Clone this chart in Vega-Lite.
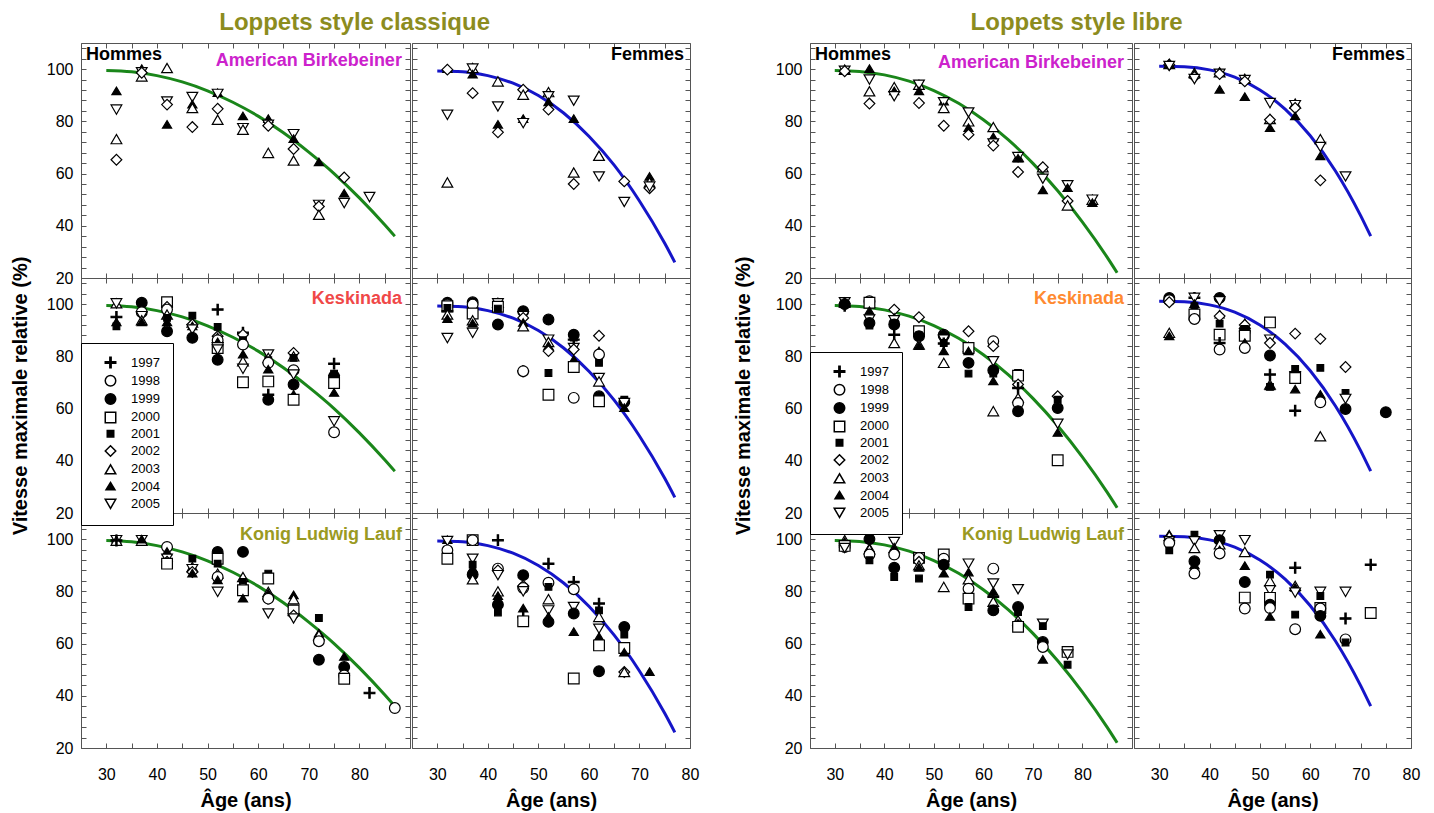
{
"$schema":"https://vega.github.io/schema/vega-lite/v6.json",
"background":"white",
"padding":{"left":9,"top":11,"right":5,"bottom":5},
"config":{"font":"Liberation Sans","view":{"stroke":"#555","strokeWidth":1},
 "axis":{"grid":false,"domain":false,"tickColor":"#555","tickSize":-5,"labelFont":"Liberation Sans","labelFontSize":16,"labelColor":"#000","labelPadding":13,"titleFont":"Liberation Sans","titleFontSize":20,"titleFontWeight":"bold","titleColor":"#000"},
 "legend":{"padding":13,"symbolOffset":10,"labelOffset":14,"labelFontSize":13,"labelFont":"Liberation Sans","labelColor":"#000","rowPadding":1.3,"symbolSize":110,"strokeColor":"#000","fillColor":"#fff","zindex":1},
 "title":{"font":"Liberation Sans","fontSize":24,"fontWeight":"bold","color":"#8c8c1e","anchor":"middle","frame":"bounds","offset":7}},
"datasets":{
"cCH":[{"a":30,"v":99.5},{"a":35,"v":99.0},{"a":40,"v":97.5},{"a":45,"v":95.1},{"a":50,"v":91.7},{"a":55,"v":87.3},{"a":60,"v":82},{"a":65,"v":75.6},{"a":70,"v":68.2},{"a":75,"v":60},{"a":80,"v":50.7},{"a":85,"v":40.4},{"a":87,"v":36}],
"cCF":[{"a":30,"v":99.3},{"a":35,"v":99.0},{"a":40,"v":97.5},{"a":45,"v":94.6},{"a":50,"v":89.9},{"a":55,"v":83.2},{"a":60,"v":74.3},{"a":65,"v":63.2},{"a":70,"v":49.5},{"a":75,"v":33.3},{"a":77,"v":26}],
"cLH":[{"a":30,"v":99.5},{"a":35,"v":99.1},{"a":40,"v":97.8},{"a":45,"v":95.4},{"a":50,"v":91.8},{"a":55,"v":86.9},{"a":60,"v":80.6},{"a":65,"v":73},{"a":70,"v":63.9},{"a":75,"v":53.4},{"a":80,"v":41.4},{"a":85,"v":27.9},{"a":87,"v":22}],
"cLF":[{"a":30,"v":101.1},{"a":35,"v":100.9},{"a":40,"v":99.7},{"a":45,"v":96.9},{"a":50,"v":92},{"a":55,"v":84.7},{"a":60,"v":74.5},{"a":65,"v":61},{"a":70,"v":43.9},{"a":72,"v":36}],
"CH_AB":[{"y":"2004","a":32,"v":91.5},{"y":"2005","a":32,"v":84.5},{"y":"2003","a":32,"v":73.2},{"y":"2002","a":32,"v":65.3},
{"y":"2004","a":37,"v":100},{"y":"2005","a":37,"v":98.8},{"y":"2003","a":37,"v":97.2},{"y":"2002","a":37,"v":98.6},
{"y":"2003","a":42,"v":100.4},{"y":"2005","a":42,"v":87.6},{"y":"2002","a":42,"v":86.4},{"y":"2004","a":42,"v":78.7},
{"y":"2005","a":47,"v":89.3},{"y":"2004","a":47,"v":86.4},{"y":"2003","a":47,"v":85.1},{"y":"2002","a":47,"v":77.8},
{"y":"2004","a":52,"v":90.8},{"y":"2005","a":52,"v":90.5},{"y":"2002","a":52,"v":84.8},{"y":"2003","a":52,"v":80.6},
{"y":"2004","a":57,"v":81.9},{"y":"2005","a":57,"v":77.4},{"y":"2003","a":57,"v":76.8},
{"y":"2004","a":62,"v":80.9},{"y":"2005","a":62,"v":78.7},{"y":"2002","a":62,"v":78.3},{"y":"2003","a":62,"v":67.9},
{"y":"2005","a":67,"v":75.1},{"y":"2004","a":67,"v":73.2},{"y":"2002","a":67,"v":69.4},{"y":"2003","a":67,"v":65},
{"y":"2004","a":72,"v":64.3},{"y":"2005","a":72,"v":48},{"y":"2002","a":72,"v":47.4},{"y":"2003","a":72,"v":44.2},
{"y":"2002","a":77,"v":58.5},{"y":"2004","a":77,"v":52.3},{"y":"2005","a":77,"v":48.7},
{"y":"2005","a":82,"v":51}],
"CF_AB":[{"y":"2004","a":32,"v":100},{"y":"2002","a":32,"v":99.8},{"y":"2005","a":32,"v":82.5},{"y":"2003","a":32,"v":56.6},
{"y":"2003","a":37,"v":100.4},{"y":"2005","a":37,"v":100.2},{"y":"2004","a":37,"v":97.9},{"y":"2002","a":37,"v":90.8},
{"y":"2003","a":42,"v":95.3},{"y":"2005","a":42,"v":85.7},{"y":"2004","a":42,"v":78.7},{"y":"2002","a":42,"v":75.8},
{"y":"2002","a":47,"v":92.1},{"y":"2003","a":47,"v":90.2},{"y":"2004","a":47,"v":80.9},{"y":"2005","a":47,"v":79.3},
{"y":"2003","a":52,"v":91.2},{"y":"2005","a":52,"v":89.6},{"y":"2004","a":52,"v":87.3},{"y":"2002","a":52,"v":84.5},
{"y":"2005","a":57,"v":87.9},{"y":"2004","a":57,"v":80.9},{"y":"2003","a":57,"v":60.4},{"y":"2002","a":57,"v":56},
{"y":"2004","a":62,"v":66.6},{"y":"2003","a":62,"v":66.8},{"y":"2005","a":62,"v":58.9},
{"y":"2002","a":67,"v":57},{"y":"2005","a":67,"v":49.1},
{"y":"2004","a":72,"v":58.7},{"y":"2003","a":72,"v":56.6},{"y":"2002","a":72,"v":54.4},{"y":"2005","a":72,"v":55}],
"CH_K":[{"y":"2003","a":32,"v":100.3},{"y":"2005","a":32,"v":100.3},{"y":"1997","a":32,"v":95.1},{"y":"2004","a":32,"v":93},{"y":"2001","a":32,"v":91.5},
{"y":"1999","a":37,"v":100.5},{"y":"1998","a":37,"v":96.9},{"y":"2005","a":37,"v":95.4},{"y":"2003","a":37,"v":93.8},{"y":"2004","a":37,"v":93},
{"y":"2000","a":42,"v":100.7},{"y":"2002","a":42,"v":98.9},{"y":"1998","a":42,"v":97.9},{"y":"2003","a":42,"v":96},{"y":"2001","a":42,"v":94.7},{"y":"2004","a":42,"v":93},{"y":"1999","a":42,"v":89.6},
{"y":"2001","a":47,"v":95.6},{"y":"2003","a":47,"v":93},{"y":"2002","a":47,"v":92.2},{"y":"2004","a":47,"v":91.5},{"y":"2005","a":47,"v":90.3},{"y":"1999","a":47,"v":87.1},
{"y":"1997","a":52,"v":97.9},{"y":"2001","a":52,"v":91.3},{"y":"2002","a":52,"v":87.7},{"y":"2003","a":52,"v":87.1},{"y":"1998","a":52,"v":86.2},{"y":"2004","a":52,"v":85.4},{"y":"2000","a":52,"v":83.2},{"y":"2005","a":52,"v":82.6},{"y":"1999","a":52,"v":78.7},
{"y":"1997","a":57,"v":89},{"y":"2002","a":57,"v":88.3},{"y":"2001","a":57,"v":86.2},{"y":"1998","a":57,"v":84.5},{"y":"2004","a":57,"v":80.7},{"y":"2003","a":57,"v":78.1},{"y":"2005","a":57,"v":75.2},{"y":"2000","a":57,"v":70.1},
{"y":"2005","a":62,"v":80.7},{"y":"2003","a":62,"v":79.4},{"y":"2001","a":62,"v":78.5},{"y":"1998","a":62,"v":77.5},{"y":"2004","a":62,"v":74.9},{"y":"2000","a":62,"v":70.4},{"y":"1997","a":62,"v":65.3},{"y":"1999","a":62,"v":63.4},
{"y":"2002","a":67,"v":81.3},{"y":"2003","a":67,"v":80},{"y":"2001","a":67,"v":79.4},{"y":"1998","a":67,"v":74.7},{"y":"2005","a":67,"v":73},{"y":"1999","a":67,"v":69.2},{"y":"2004","a":67,"v":65.3},{"y":"2000","a":67,"v":63.4},
{"y":"1997","a":75,"v":77.2},{"y":"2001","a":75,"v":73.4},{"y":"2002","a":75,"v":72.6},{"y":"1999","a":75,"v":72.4},{"y":"2000","a":75,"v":69.8},{"y":"2004","a":75,"v":66},{"y":"2005","a":75,"v":55.1},{"y":"1998","a":75,"v":50.9}],
"CF_K":[{"y":"1999","a":32,"v":100.5},{"y":"1998","a":32,"v":99.8},{"y":"2000","a":32,"v":99.2},{"y":"2001","a":32,"v":98.5},{"y":"1997","a":32,"v":97.3},{"y":"2003","a":32,"v":96},{"y":"2004","a":32,"v":94.3},{"y":"2005","a":32,"v":87},
{"y":"1999","a":37,"v":100.7},{"y":"1998","a":37,"v":99.8},{"y":"2000","a":37,"v":96.4},{"y":"2003","a":37,"v":93.8},{"y":"2004","a":37,"v":92.5},{"y":"2005","a":37,"v":89},
{"y":"2003","a":42,"v":100.5},{"y":"2005","a":42,"v":100.3},{"y":"2000","a":42,"v":99},{"y":"2001","a":42,"v":98.3},{"y":"1999","a":42,"v":92.2},
{"y":"1999","a":47,"v":97.3},{"y":"2005","a":47,"v":95.4},{"y":"2002","a":47,"v":94.7},{"y":"2004","a":47,"v":92.8},{"y":"2003","a":47,"v":91.5},{"y":"1997","a":47,"v":74.3},{"y":"1998","a":47,"v":74.3},
{"y":"1999","a":52,"v":94.1},{"y":"2005","a":52,"v":86.4},{"y":"2003","a":52,"v":85.5},{"y":"2004","a":52,"v":83.9},{"y":"2002","a":52,"v":82},{"y":"2001","a":52,"v":73.6},{"y":"2000","a":52,"v":65.3},
{"y":"1999","a":57,"v":88.3},{"y":"2001","a":57,"v":87.2},{"y":"1997","a":57,"v":86.4},{"y":"2005","a":57,"v":83.2},{"y":"2002","a":57,"v":82.6},{"y":"2004","a":57,"v":78.7},{"y":"2000","a":57,"v":75.9},{"y":"1998","a":57,"v":64.1},
{"y":"2002","a":62,"v":87.9},{"y":"2004","a":62,"v":81.9},{"y":"1998","a":62,"v":80.7},{"y":"2001","a":62,"v":77.5},{"y":"2005","a":62,"v":71.7},{"y":"2003","a":62,"v":70.4},{"y":"1999","a":62,"v":64.7},{"y":"2000","a":62,"v":62.8},
{"y":"2001","a":67,"v":63.4},{"y":"1999","a":67,"v":62.5},{"y":"2005","a":67,"v":62.1},{"y":"2004","a":67,"v":60.2}],
"CH_L":[{"y":"2004","a":32,"v":99.8},{"y":"2005","a":32,"v":99.6},{"y":"2003","a":32,"v":99.4},{"y":"1997","a":32,"v":99.5},
{"y":"2005","a":37,"v":99.6},{"y":"2003","a":37,"v":99.4},{"y":"2004","a":37,"v":99.8},
{"y":"1998","a":42,"v":97},{"y":"2004","a":42,"v":95.1},{"y":"2005","a":42,"v":92.5},{"y":"2002","a":42,"v":91.3},{"y":"2000","a":42,"v":90.6},
{"y":"2001","a":47,"v":92.5},{"y":"2003","a":47,"v":89.3},{"y":"2005","a":47,"v":88.5},{"y":"2002","a":47,"v":87.4},{"y":"2004","a":47,"v":86.8},
{"y":"1999","a":52,"v":95.1},{"y":"2000","a":52,"v":92.5},{"y":"2001","a":52,"v":90.6},{"y":"2003","a":52,"v":86.8},{"y":"1998","a":52,"v":85.5},{"y":"2004","a":52,"v":84.2},{"y":"2005","a":52,"v":79.8},
{"y":"1999","a":57,"v":95.1},{"y":"2003","a":57,"v":85.5},{"y":"2001","a":57,"v":83.6},{"y":"1998","a":57,"v":81},{"y":"2000","a":57,"v":80.4},{"y":"2004","a":57,"v":77.2},
{"y":"2001","a":62,"v":86.8},{"y":"2000","a":62,"v":84.9},{"y":"2003","a":62,"v":79.8},{"y":"2004","a":62,"v":79.1},{"y":"1997","a":62,"v":77.2},{"y":"1998","a":62,"v":77.2},{"y":"2005","a":62,"v":71.5},
{"y":"2004","a":67,"v":78.5},{"y":"2003","a":67,"v":77},{"y":"2001","a":67,"v":73.4},{"y":"2000","a":67,"v":72.7},{"y":"2002","a":67,"v":70.8},{"y":"2005","a":67,"v":69.6},
{"y":"2001","a":72,"v":69.8},{"y":"2004","a":72,"v":63.8},{"y":"2003","a":72,"v":63.2},{"y":"1998","a":72,"v":60.9},{"y":"1999","a":72,"v":53.8},
{"y":"2004","a":77,"v":54.9},{"y":"1999","a":77,"v":51},{"y":"1998","a":77,"v":47.8},{"y":"2000","a":77,"v":46.5},
{"y":"1997","a":82,"v":41.1},{"y":"1998","a":87,"v":35.3}],
"CF_L":[{"y":"2004","a":32,"v":99.6},{"y":"2005","a":32,"v":99.3},{"y":"1998","a":32,"v":95.7},{"y":"2000","a":32,"v":92.5},
{"y":"2000","a":37,"v":99.6},{"y":"1998","a":37,"v":99.6},{"y":"2005","a":37,"v":92.5},{"y":"2001","a":37,"v":90.2},{"y":"2004","a":37,"v":88.7},{"y":"1999","a":37,"v":86.4},{"y":"2003","a":37,"v":84.6},
{"y":"1997","a":42,"v":99.6},{"y":"1998","a":42,"v":88.7},{"y":"2002","a":42,"v":88},{"y":"2005","a":42,"v":86.2},{"y":"2003","a":42,"v":80},{"y":"2004","a":42,"v":78.2},{"y":"1999","a":42,"v":74.9},{"y":"2001","a":42,"v":71.9},
{"y":"1999","a":47,"v":86.2},{"y":"2002","a":47,"v":82.1},{"y":"1998","a":47,"v":81.3},{"y":"2005","a":47,"v":80},{"y":"2004","a":47,"v":73.4},{"y":"1997","a":47,"v":70.2},{"y":"2000","a":47,"v":68.5},
{"y":"1997","a":52,"v":90.6},{"y":"1998","a":52,"v":83.3},{"y":"2001","a":52,"v":81.7},{"y":"2003","a":52,"v":77},{"y":"2005","a":52,"v":72.7},{"y":"2004","a":52,"v":70.2},{"y":"1999","a":52,"v":68.3},
{"y":"1997","a":57,"v":83.6},{"y":"1998","a":57,"v":80.8},{"y":"2005","a":57,"v":74},{"y":"1999","a":57,"v":71.5},{"y":"2004","a":57,"v":64.4},{"y":"2000","a":57,"v":46.6},
{"y":"1997","a":62,"v":75.3},{"y":"2001","a":62,"v":72.7},{"y":"2003","a":62,"v":70.2},{"y":"2005","a":62,"v":65.7},{"y":"2004","a":62,"v":62.5},{"y":"2000","a":62,"v":59.3},{"y":"1999","a":62,"v":49.4},
{"y":"1999","a":67,"v":66.4},{"y":"2001","a":67,"v":63.4},{"y":"2000","a":67,"v":58.3},{"y":"2004","a":67,"v":56.5},{"y":"2002","a":67,"v":49.1},{"y":"2003","a":67,"v":49.1},
{"y":"2004","a":72,"v":49.1}],
"LH_AB":[{"y":"2003","a":32,"v":99.8},{"y":"2004","a":32,"v":99.6},{"y":"2005","a":32,"v":99.4},{"y":"2002","a":32,"v":99.2},
{"y":"2004","a":37,"v":100},{"y":"2005","a":37,"v":96},{"y":"2003","a":37,"v":91.5},{"y":"2002","a":37,"v":86.8},
{"y":"2003","a":42,"v":93.1},{"y":"2004","a":42,"v":91.5},{"y":"2005","a":42,"v":89.6},
{"y":"2003","a":47,"v":94},{"y":"2005","a":47,"v":94},{"y":"2004","a":47,"v":91.5},{"y":"2002","a":47,"v":87},
{"y":"2004","a":52,"v":87.6},{"y":"2005","a":52,"v":87.3},{"y":"2003","a":52,"v":85.1},{"y":"2002","a":52,"v":78.3},
{"y":"2005","a":57,"v":83.4},{"y":"2003","a":57,"v":80},{"y":"2004","a":57,"v":77.4},{"y":"2002","a":57,"v":74.9},
{"y":"2003","a":62,"v":77.8},{"y":"2004","a":62,"v":73.9},{"y":"2005","a":62,"v":71.5},{"y":"2002","a":62,"v":70.7},
{"y":"2003","a":67,"v":66.3},{"y":"2005","a":67,"v":66.3},{"y":"2004","a":67,"v":65.7},{"y":"2002","a":67,"v":60.6},
{"y":"2003","a":72,"v":62.4},{"y":"2002","a":72,"v":62.4},{"y":"2005","a":72,"v":58},{"y":"2004","a":72,"v":53.6},
{"y":"2005","a":77,"v":55.5},{"y":"2004","a":77,"v":54.4},{"y":"2002","a":77,"v":49.5},{"y":"2003","a":77,"v":47.8},
{"y":"2003","a":82,"v":50},{"y":"2005","a":82,"v":50},{"y":"2004","a":82,"v":48.7}],
"LF_AB":[{"y":"2002","a":32,"v":101.7},{"y":"2003","a":32,"v":102},{"y":"2004","a":32,"v":101.5},{"y":"2005","a":32,"v":101.2},
{"y":"2003","a":37,"v":98.5},{"y":"2004","a":37,"v":97.9},{"y":"2002","a":37,"v":97},{"y":"2005","a":37,"v":96.2},
{"y":"2003","a":42,"v":98.8},{"y":"2005","a":42,"v":98.2},{"y":"2002","a":42,"v":98.1},{"y":"2004","a":42,"v":92.1},
{"y":"2003","a":47,"v":96.3},{"y":"2005","a":47,"v":95.8},{"y":"2002","a":47,"v":95.3},{"y":"2004","a":47,"v":89.3},
{"y":"2005","a":52,"v":87},{"y":"2003","a":52,"v":80.9},{"y":"2002","a":52,"v":80.6},{"y":"2004","a":52,"v":77.4},
{"y":"2003","a":57,"v":86.8},{"y":"2005","a":57,"v":86.2},{"y":"2002","a":57,"v":85.1},{"y":"2004","a":57,"v":81.9},
{"y":"2003","a":62,"v":73.2},{"y":"2005","a":62,"v":70.2},{"y":"2004","a":62,"v":66.6},{"y":"2002","a":62,"v":57.4},
{"y":"2005","a":67,"v":58.9}],
"LH_K":[{"y":"2005","a":32,"v":100.7},{"y":"2003","a":32,"v":100.6},{"y":"2002","a":32,"v":100.2},{"y":"1999","a":32,"v":100},{"y":"2004","a":32,"v":100},{"y":"1997","a":32,"v":99.4},
{"y":"1998","a":37,"v":101.1},{"y":"2000","a":37,"v":100.5},{"y":"2004","a":37,"v":97.3},{"y":"2005","a":37,"v":94.1},{"y":"1999","a":37,"v":92.8},{"y":"2001","a":37,"v":91.8},
{"y":"2002","a":42,"v":97.9},{"y":"2004","a":42,"v":94.7},{"y":"2005","a":42,"v":93.8},{"y":"1999","a":42,"v":92.2},{"y":"1997","a":42,"v":88.3},{"y":"2003","a":42,"v":85.1},
{"y":"2002","a":47,"v":95},{"y":"2000","a":47,"v":89.6},{"y":"2001","a":47,"v":88},{"y":"1999","a":47,"v":87.7},{"y":"2003","a":47,"v":84.5},{"y":"2004","a":47,"v":83.9},
{"y":"1998","a":52,"v":88.3},{"y":"1999","a":52,"v":87.9},{"y":"2005","a":52,"v":86.4},{"y":"2001","a":52,"v":85.1},{"y":"1997","a":52,"v":84.9},{"y":"2004","a":52,"v":81.9},{"y":"2003","a":52,"v":77.5},
{"y":"2002","a":57,"v":89.6},{"y":"2003","a":57,"v":83.6},{"y":"2000","a":57,"v":83.2},{"y":"2004","a":57,"v":81.9},{"y":"1999","a":57,"v":77.5},{"y":"2001","a":57,"v":73.4},
{"y":"1998","a":62,"v":85.8},{"y":"2002","a":62,"v":83.9},{"y":"2005","a":62,"v":78.1},{"y":"1999","a":62,"v":74.7},{"y":"2001","a":62,"v":73.4},{"y":"2004","a":62,"v":70.4},{"y":"2003","a":62,"v":59},
{"y":"2001","a":67,"v":73.6},{"y":"2000","a":67,"v":72.6},{"y":"2002","a":67,"v":69.2},{"y":"1997","a":67,"v":67.9},{"y":"2003","a":67,"v":64.1},{"y":"1998","a":67,"v":62.1},{"y":"1999","a":67,"v":59},
{"y":"2002","a":75,"v":64.7},{"y":"2001","a":75,"v":63.4},{"y":"1999","a":75,"v":60.2},{"y":"2005","a":75,"v":54.2},{"y":"2004","a":75,"v":50.7},{"y":"2000","a":75,"v":40.2}],
"LF_K":[{"y":"1999","a":32,"v":102.4},{"y":"1997","a":32,"v":101.7},{"y":"1998","a":32,"v":101.5},{"y":"2002","a":32,"v":100.7},{"y":"2003","a":32,"v":89},{"y":"2004","a":32,"v":87.7},
{"y":"1997","a":37,"v":102.4},{"y":"2005","a":37,"v":102.4},{"y":"2004","a":37,"v":100},{"y":"2001","a":37,"v":99.2},{"y":"2000","a":37,"v":96},{"y":"1998","a":37,"v":94.3},
{"y":"1999","a":42,"v":102.4},{"y":"2005","a":42,"v":101.1},{"y":"2004","a":42,"v":96},{"y":"2002","a":42,"v":95.4},{"y":"2001","a":42,"v":92.5},{"y":"2000","a":42,"v":88.3},{"y":"1997","a":42,"v":85.1},{"y":"1998","a":42,"v":82.6},
{"y":"2003","a":47,"v":92.5},{"y":"2002","a":47,"v":92},{"y":"2001","a":47,"v":90.5},{"y":"1999","a":47,"v":89.6},{"y":"2000","a":47,"v":87.9},{"y":"2004","a":47,"v":85.1},{"y":"1998","a":47,"v":83.2},
{"y":"2000","a":52,"v":93},{"y":"2005","a":52,"v":86.4},{"y":"2002","a":52,"v":85.1},{"y":"1999","a":52,"v":80.3},{"y":"1997","a":52,"v":73},{"y":"2003","a":52,"v":69.2},{"y":"2004","a":52,"v":68.5},{"y":"2001","a":52,"v":68.3},
{"y":"2002","a":57,"v":88.7},{"y":"2001","a":57,"v":75.2},{"y":"2005","a":57,"v":72.4},{"y":"2000","a":57,"v":71.7},{"y":"2004","a":57,"v":67.3},{"y":"1997","a":57,"v":59.2},
{"y":"2002","a":62,"v":86.7},{"y":"2001","a":62,"v":75.6},{"y":"2004","a":62,"v":65.3},{"y":"1998","a":62,"v":62.4},{"y":"2003","a":62,"v":49.4},
{"y":"2002","a":67,"v":75.9},{"y":"2001","a":67,"v":66},{"y":"2005","a":67,"v":63.7},{"y":"1999","a":67,"v":59.8},
{"y":"1999","a":75,"v":58.6}],
"LH_L":[{"y":"2003","a":32,"v":99.6},{"y":"2004","a":32,"v":98.9},{"y":"2001","a":32,"v":97.9},{"y":"1998","a":32,"v":97},{"y":"2000","a":32,"v":97.4},{"y":"2005","a":32,"v":96.6},
{"y":"1999","a":37,"v":100},{"y":"2004","a":37,"v":96.6},{"y":"2003","a":37,"v":96.1},{"y":"1998","a":37,"v":94.1},{"y":"2001","a":37,"v":91.9},
{"y":"2005","a":42,"v":98.9},{"y":"2003","a":42,"v":96.6},{"y":"2004","a":42,"v":96.1},{"y":"1998","a":42,"v":94.1},{"y":"1999","a":42,"v":89},{"y":"2001","a":42,"v":85.5},
{"y":"2000","a":47,"v":92.8},{"y":"1998","a":47,"v":92.8},{"y":"2002","a":47,"v":91.3},{"y":"2003","a":47,"v":90},{"y":"2004","a":47,"v":89},{"y":"2001","a":47,"v":84.9},
{"y":"2000","a":52,"v":94.1},{"y":"1998","a":52,"v":92.5},{"y":"2005","a":52,"v":89.7},{"y":"1999","a":52,"v":90.2},{"y":"2004","a":52,"v":86.8},{"y":"2003","a":52,"v":81.7},
{"y":"2005","a":57,"v":90.6},{"y":"2004","a":57,"v":87.2},{"y":"2003","a":57,"v":84.6},{"y":"1998","a":57,"v":81},{"y":"2000","a":57,"v":77.2},{"y":"2001","a":57,"v":74},
{"y":"1998","a":62,"v":88.7},{"y":"2005","a":62,"v":83},{"y":"2004","a":62,"v":79.8},{"y":"1997","a":62,"v":77.9},{"y":"2003","a":62,"v":76},{"y":"2001","a":62,"v":73.4},{"y":"1999","a":62,"v":72.7},
{"y":"2005","a":67,"v":80.8},{"y":"1999","a":67,"v":74},{"y":"2001","a":67,"v":72.1},{"y":"2003","a":67,"v":68.9},{"y":"2004","a":67,"v":67.6},{"y":"1998","a":67,"v":66.7},{"y":"2000","a":67,"v":66.4},
{"y":"2005","a":72,"v":67.6},{"y":"2001","a":72,"v":66.7},{"y":"1999","a":72,"v":60.6},{"y":"1998","a":72,"v":58.7},{"y":"2004","a":72,"v":53.8},
{"y":"2000","a":77,"v":56.8},{"y":"2005","a":77,"v":55.8},{"y":"2001","a":77,"v":51.9}],
"LF_L":[{"y":"2004","a":32,"v":101.7},{"y":"2003","a":32,"v":101.2},{"y":"2005","a":32,"v":99.2},{"y":"1998","a":32,"v":98.5},{"y":"2001","a":32,"v":95.7},
{"y":"2001","a":37,"v":101.7},{"y":"2005","a":37,"v":99.2},{"y":"2003","a":37,"v":96.6},{"y":"1999","a":37,"v":91.5},{"y":"2004","a":37,"v":90},{"y":"1998","a":37,"v":86.8},
{"y":"2005","a":42,"v":101.5},{"y":"1999","a":42,"v":99.6},{"y":"2003","a":42,"v":98},{"y":"2004","a":42,"v":95.7},{"y":"1998","a":42,"v":94.5},
{"y":"2005","a":47,"v":99.6},{"y":"2003","a":47,"v":95.1},{"y":"2004","a":47,"v":89.7},{"y":"1999","a":47,"v":83.6},{"y":"2000","a":47,"v":77.6},{"y":"1998","a":47,"v":73.4},
{"y":"2001","a":52,"v":86.4},{"y":"2003","a":52,"v":83.9},{"y":"2005","a":52,"v":80.4},{"y":"2000","a":52,"v":77.5},{"y":"1999","a":52,"v":74.9},{"y":"1998","a":52,"v":73.6},{"y":"2004","a":52,"v":70.2},
{"y":"1997","a":57,"v":89},{"y":"2003","a":57,"v":82.1},{"y":"2004","a":57,"v":81.3},{"y":"2005","a":57,"v":79.5},{"y":"2001","a":57,"v":71.1},{"y":"1998","a":57,"v":65.5},
{"y":"2005","a":62,"v":79.8},{"y":"2001","a":62,"v":78.2},{"y":"2000","a":62,"v":73.6},{"y":"1998","a":62,"v":73.4},{"y":"1999","a":62,"v":70.6},{"y":"2004","a":62,"v":63.4},
{"y":"2005","a":67,"v":79.8},{"y":"1997","a":67,"v":69.6},{"y":"1998","a":67,"v":61.6},{"y":"2001","a":67,"v":60.4},
{"y":"1997","a":72,"v":90.2},{"y":"2000","a":72,"v":71.7}]
},
"resolve":{"scale":{"shape":"independent","fill":"independent"},"legend":{"shape":"independent","fill":"independent"}},
"spacing":32,
"hconcat":[
{"title":{"text":"Loppets style classique"},
 "spacing":0,
 "hconcat":[
 {"bounds":"flush","spacing":0,
  "vconcat":[
  {"width":329,"height":235,"resolve":{"axis":{"x":"independent","y":"independent"}},
   "layer":[
   {"data":{"name":"cCH"},"mark":{"type":"line","color":"#1a861a","strokeWidth":3,"interpolate":"monotone"},
    "encoding":{"x":{"field":"a","type":"quantitative","scale":{"domain":[25,90],"nice":false,"zero":false},"axis":{"orient":"top","values":[25,30,35,40,45,50,55,60,65,70,75,80,85,90],"labels":false,"title":null}},
     "y":{"field":"v","type":"quantitative","scale":{"domain":[20,110],"nice":false,"zero":false},"axis":{"orient":"right","values":[20,24,28,32,36,40,44,48,52,56,60,64,68,72,76,80,84,88,92,96,100,104,108],"labels":false,"title":null}}}},
   {"data":{"name":"CH_AB"},"mark":{"type":"point","filled":true,"stroke":"#000","strokeWidth":1.2,"size":115,"opacity":1},
    "encoding":{"x":{"field":"a","type":"quantitative","scale":{"domain":[25,90],"nice":false,"zero":false},"axis":{"orient":"bottom","values":[25,30,35,40,45,50,55,60,65,70,75,80,85,90],"labels":false,"title":null}},
     "y":{"field":"v","type":"quantitative","scale":{"domain":[20,110],"nice":false,"zero":false},"axis":{"orient":"left","values":[20,24,28,32,36,40,44,48,52,56,60,64,68,72,76,80,84,88,92,96,100,104,108],"labelExpr":"datum.value % 20 === 0 ? datum.label : ''","title":null}},
     "shape":{"field":"y","type":"nominal","scale":{"domain":["1997","1998","1999","2000","2001","2002","2003","2004","2005"],"range":["M-1,-0.12H1V0.12H-1Z M-0.12,-1H0.12V1H-0.12Z","circle","circle","square","M-0.62,-0.62H0.62V0.62H-0.62Z","diamond","triangle-up","M0,-0.78L0.85,0.62L-0.85,0.62Z","triangle-down"]},"legend":{"orient":"none","legendX":0,"legendY":300,"title":null,"encode":{"symbols":{"update":{"stroke":{"value":"#000"},"strokeWidth":{"value":1.2}}}}}},
     "fill":{"field":"y","type":"nominal","scale":{"domain":["1997","1998","1999","2000","2001","2002","2003","2004","2005"],"range":["#000","#fff","#000","#fff","#000","#fff","#fff","#000","#fff"]},"legend":{"orient":"none","legendX":0,"legendY":300,"title":null,"encode":{"symbols":{"update":{"stroke":{"value":"#000"},"strokeWidth":{"value":1.2}}}}}}}},
   {"data":{"values":[{}]},"mark":{"type":"text","text":"Hommes","align":"left","baseline":"middle","fontSize":18,"fontWeight":"bold","color":"#000"},
    "encoding":{"x":{"datum":26,"type":"quantitative","scale":{"domain":[25,90],"nice":false,"zero":false},"axis":null},"y":{"datum":105.5,"type":"quantitative","scale":{"domain":[20,110],"nice":false,"zero":false},"axis":null}}},
   {"data":{"values":[{}]},"mark":{"type":"text","text":"American Birkebeiner","align":"right","baseline":"middle","fontSize":18,"fontWeight":"bold","color":"#cc22cc"},
    "encoding":{"x":{"datum":88.4,"type":"quantitative","scale":{"domain":[25,90],"nice":false,"zero":false},"axis":null},"y":{"datum":103,"type":"quantitative","scale":{"domain":[20,110],"nice":false,"zero":false},"axis":null}}}
   ]},
  {"width":329,"height":235,"resolve":{"axis":{"x":"independent","y":"independent"}},
   "layer":[
   {"data":{"name":"cCH"},"mark":{"type":"line","color":"#1a861a","strokeWidth":3,"interpolate":"monotone"},
    "encoding":{"x":{"field":"a","type":"quantitative","scale":{"domain":[25,90],"nice":false,"zero":false},"axis":{"orient":"top","values":[25,30,35,40,45,50,55,60,65,70,75,80,85,90],"labels":false,"title":null}},
     "y":{"field":"v","type":"quantitative","scale":{"domain":[20,110],"nice":false,"zero":false},"axis":{"orient":"right","values":[20,24,28,32,36,40,44,48,52,56,60,64,68,72,76,80,84,88,92,96,100,104,108],"labels":false,"title":null}}}},
   {"data":{"name":"CH_K"},"mark":{"type":"point","filled":true,"stroke":"#000","strokeWidth":1.2,"size":115,"opacity":1},
    "encoding":{"x":{"field":"a","type":"quantitative","scale":{"domain":[25,90],"nice":false,"zero":false},"axis":{"orient":"bottom","values":[25,30,35,40,45,50,55,60,65,70,75,80,85,90],"labels":false,"title":null}},
     "y":{"field":"v","type":"quantitative","scale":{"domain":[20,110],"nice":false,"zero":false},"axis":{"orient":"left","values":[20,24,28,32,36,40,44,48,52,56,60,64,68,72,76,80,84,88,92,96,100,104,108],"labelExpr":"datum.value % 20 === 0 ? datum.label : ''","title":"Vitesse maximale relative (%)","titlePadding":16}},
     "shape":{"field":"y","type":"nominal","scale":{"domain":["1997","1998","1999","2000","2001","2002","2003","2004","2005"],"range":["M-1,-0.12H1V0.12H-1Z M-0.12,-1H0.12V1H-0.12Z","circle","circle","square","M-0.62,-0.62H0.62V0.62H-0.62Z","diamond","triangle-up","M0,-0.78L0.85,0.62L-0.85,0.62Z","triangle-down"]},"legend":{"orient":"none","legendX":0,"legendY":300,"title":null,"encode":{"symbols":{"update":{"stroke":{"value":"#000"},"strokeWidth":{"value":1.2}}}}}},
     "fill":{"field":"y","type":"nominal","scale":{"domain":["1997","1998","1999","2000","2001","2002","2003","2004","2005"],"range":["#000","#fff","#000","#fff","#000","#fff","#fff","#000","#fff"]},"legend":{"orient":"none","legendX":0,"legendY":300,"title":null,"encode":{"symbols":{"update":{"stroke":{"value":"#000"},"strokeWidth":{"value":1.2}}}}}}}},
   {"data":{"values":[{}]},"mark":{"type":"text","text":"Keskinada","align":"right","baseline":"middle","fontSize":18,"fontWeight":"bold","color":"#f04848"},
    "encoding":{"x":{"datum":88.4,"type":"quantitative","scale":{"domain":[25,90],"nice":false,"zero":false},"axis":null},"y":{"datum":102,"type":"quantitative","scale":{"domain":[20,110],"nice":false,"zero":false},"axis":null}}}
   ]},
  {"width":329,"height":235,"resolve":{"axis":{"x":"independent","y":"independent"}},
   "layer":[
   {"data":{"name":"cCH"},"mark":{"type":"line","color":"#1a861a","strokeWidth":3,"interpolate":"monotone"},
    "encoding":{"x":{"field":"a","type":"quantitative","scale":{"domain":[25,90],"nice":false,"zero":false},"axis":{"orient":"top","values":[25,30,35,40,45,50,55,60,65,70,75,80,85,90],"labels":false,"title":null}},
     "y":{"field":"v","type":"quantitative","scale":{"domain":[20,110],"nice":false,"zero":false},"axis":{"orient":"right","values":[20,24,28,32,36,40,44,48,52,56,60,64,68,72,76,80,84,88,92,96,100,104,108],"labels":false,"title":null}}}},
   {"data":{"name":"CH_L"},"mark":{"type":"point","filled":true,"stroke":"#000","strokeWidth":1.2,"size":115,"opacity":1},
    "encoding":{"x":{"field":"a","type":"quantitative","scale":{"domain":[25,90],"nice":false,"zero":false},"axis":{"orient":"bottom","values":[25,30,35,40,45,50,55,60,65,70,75,80,85,90],"labelExpr":"datum.value % 10 === 0 && datum.value <= 80 ? datum.label : ''","labelFlush":false,"labelPadding":23,"title":"Âge (ans)","titlePadding":8}},
     "y":{"field":"v","type":"quantitative","scale":{"domain":[20,110],"nice":false,"zero":false},"axis":{"orient":"left","values":[20,24,28,32,36,40,44,48,52,56,60,64,68,72,76,80,84,88,92,96,100,104,108],"labelExpr":"datum.value % 20 === 0 ? datum.label : ''","title":null}},
     "shape":{"field":"y","type":"nominal","scale":{"domain":["1997","1998","1999","2000","2001","2002","2003","2004","2005"],"range":["M-1,-0.12H1V0.12H-1Z M-0.12,-1H0.12V1H-0.12Z","circle","circle","square","M-0.62,-0.62H0.62V0.62H-0.62Z","diamond","triangle-up","M0,-0.78L0.85,0.62L-0.85,0.62Z","triangle-down"]},"legend":{"orient":"none","legendX":0,"legendY":300,"title":null,"encode":{"symbols":{"update":{"stroke":{"value":"#000"},"strokeWidth":{"value":1.2}}}}}},
     "fill":{"field":"y","type":"nominal","scale":{"domain":["1997","1998","1999","2000","2001","2002","2003","2004","2005"],"range":["#000","#fff","#000","#fff","#000","#fff","#fff","#000","#fff"]},"legend":{"orient":"none","legendX":0,"legendY":300,"title":null,"encode":{"symbols":{"update":{"stroke":{"value":"#000"},"strokeWidth":{"value":1.2}}}}}}}},
   {"data":{"values":[{}]},"mark":{"type":"text","text":"Konig Ludwig Lauf","align":"right","baseline":"middle","fontSize":18,"fontWeight":"bold","color":"#9a9a22"},
    "encoding":{"x":{"datum":88.4,"type":"quantitative","scale":{"domain":[25,90],"nice":false,"zero":false},"axis":null},"y":{"datum":101.5,"type":"quantitative","scale":{"domain":[20,110],"nice":false,"zero":false},"axis":null}}}
   ]}
  ]},
 {"bounds":"flush","spacing":0,
  "vconcat":[
  {"width":278,"height":235,"resolve":{"axis":{"x":"independent","y":"independent"}},
   "layer":[
   {"data":{"name":"cCF"},"mark":{"type":"line","color":"#1515c8","strokeWidth":3,"interpolate":"monotone"},
    "encoding":{"x":{"field":"a","type":"quantitative","scale":{"domain":[25,80],"nice":false,"zero":false},"axis":{"orient":"top","values":[25,30,35,40,45,50,55,60,65,70,75,80],"labels":false,"title":null}},
     "y":{"field":"v","type":"quantitative","scale":{"domain":[20,110],"nice":false,"zero":false},"axis":{"orient":"right","values":[20,24,28,32,36,40,44,48,52,56,60,64,68,72,76,80,84,88,92,96,100,104,108],"labels":false,"title":null}}}},
   {"data":{"name":"CF_AB"},"mark":{"type":"point","filled":true,"stroke":"#000","strokeWidth":1.2,"size":115,"opacity":1},
    "encoding":{"x":{"field":"a","type":"quantitative","scale":{"domain":[25,80],"nice":false,"zero":false},"axis":{"orient":"bottom","values":[25,30,35,40,45,50,55,60,65,70,75,80],"labels":false,"title":null}},
     "y":{"field":"v","type":"quantitative","scale":{"domain":[20,110],"nice":false,"zero":false},"axis":{"orient":"left","values":[20,24,28,32,36,40,44,48,52,56,60,64,68,72,76,80,84,88,92,96,100,104,108],"labels":false,"title":null}},
     "shape":{"field":"y","type":"nominal","scale":{"domain":["1997","1998","1999","2000","2001","2002","2003","2004","2005"],"range":["M-1,-0.12H1V0.12H-1Z M-0.12,-1H0.12V1H-0.12Z","circle","circle","square","M-0.62,-0.62H0.62V0.62H-0.62Z","diamond","triangle-up","M0,-0.78L0.85,0.62L-0.85,0.62Z","triangle-down"]},"legend":{"orient":"none","legendX":0,"legendY":300,"title":null,"encode":{"symbols":{"update":{"stroke":{"value":"#000"},"strokeWidth":{"value":1.2}}}}}},
     "fill":{"field":"y","type":"nominal","scale":{"domain":["1997","1998","1999","2000","2001","2002","2003","2004","2005"],"range":["#000","#fff","#000","#fff","#000","#fff","#fff","#000","#fff"]},"legend":{"orient":"none","legendX":0,"legendY":300,"title":null,"encode":{"symbols":{"update":{"stroke":{"value":"#000"},"strokeWidth":{"value":1.2}}}}}}}},
   {"data":{"values":[{}]},"mark":{"type":"text","text":"Femmes","align":"right","baseline":"middle","fontSize":18,"fontWeight":"bold","color":"#000"},
    "encoding":{"x":{"datum":78.8,"type":"quantitative","scale":{"domain":[25,80],"nice":false,"zero":false},"axis":null},"y":{"datum":105.5,"type":"quantitative","scale":{"domain":[20,110],"nice":false,"zero":false},"axis":null}}}
   ]},
  {"width":278,"height":235,"resolve":{"axis":{"x":"independent","y":"independent"}},
   "layer":[
   {"data":{"name":"cCF"},"mark":{"type":"line","color":"#1515c8","strokeWidth":3,"interpolate":"monotone"},
    "encoding":{"x":{"field":"a","type":"quantitative","scale":{"domain":[25,80],"nice":false,"zero":false},"axis":{"orient":"top","values":[25,30,35,40,45,50,55,60,65,70,75,80],"labels":false,"title":null}},
     "y":{"field":"v","type":"quantitative","scale":{"domain":[20,110],"nice":false,"zero":false},"axis":{"orient":"right","values":[20,24,28,32,36,40,44,48,52,56,60,64,68,72,76,80,84,88,92,96,100,104,108],"labels":false,"title":null}}}},
   {"data":{"name":"CF_K"},"mark":{"type":"point","filled":true,"stroke":"#000","strokeWidth":1.2,"size":115,"opacity":1},
    "encoding":{"x":{"field":"a","type":"quantitative","scale":{"domain":[25,80],"nice":false,"zero":false},"axis":{"orient":"bottom","values":[25,30,35,40,45,50,55,60,65,70,75,80],"labels":false,"title":null}},
     "y":{"field":"v","type":"quantitative","scale":{"domain":[20,110],"nice":false,"zero":false},"axis":{"orient":"left","values":[20,24,28,32,36,40,44,48,52,56,60,64,68,72,76,80,84,88,92,96,100,104,108],"labels":false,"title":null}},
     "shape":{"field":"y","type":"nominal","scale":{"domain":["1997","1998","1999","2000","2001","2002","2003","2004","2005"],"range":["M-1,-0.12H1V0.12H-1Z M-0.12,-1H0.12V1H-0.12Z","circle","circle","square","M-0.62,-0.62H0.62V0.62H-0.62Z","diamond","triangle-up","M0,-0.78L0.85,0.62L-0.85,0.62Z","triangle-down"]},"legend":{"orient":"none","legendX":0,"legendY":300,"title":null,"encode":{"symbols":{"update":{"stroke":{"value":"#000"},"strokeWidth":{"value":1.2}}}}}},
     "fill":{"field":"y","type":"nominal","scale":{"domain":["1997","1998","1999","2000","2001","2002","2003","2004","2005"],"range":["#000","#fff","#000","#fff","#000","#fff","#fff","#000","#fff"]},"legend":{"orient":"none","legendX":0,"legendY":300,"title":null,"encode":{"symbols":{"update":{"stroke":{"value":"#000"},"strokeWidth":{"value":1.2}}}}}}}}
   ]},
  {"width":278,"height":235,"resolve":{"axis":{"x":"independent","y":"independent"}},
   "layer":[
   {"data":{"name":"cCF"},"mark":{"type":"line","color":"#1515c8","strokeWidth":3,"interpolate":"monotone"},
    "encoding":{"x":{"field":"a","type":"quantitative","scale":{"domain":[25,80],"nice":false,"zero":false},"axis":{"orient":"top","values":[25,30,35,40,45,50,55,60,65,70,75,80],"labels":false,"title":null}},
     "y":{"field":"v","type":"quantitative","scale":{"domain":[20,110],"nice":false,"zero":false},"axis":{"orient":"right","values":[20,24,28,32,36,40,44,48,52,56,60,64,68,72,76,80,84,88,92,96,100,104,108],"labels":false,"title":null}}}},
   {"data":{"name":"CF_L"},"mark":{"type":"point","filled":true,"stroke":"#000","strokeWidth":1.2,"size":115,"opacity":1},
    "encoding":{"x":{"field":"a","type":"quantitative","scale":{"domain":[25,80],"nice":false,"zero":false},"axis":{"orient":"bottom","values":[25,30,35,40,45,50,55,60,65,70,75,80],"labelExpr":"datum.value % 10 === 0 ? datum.label : ''","labelFlush":false,"labelPadding":23,"title":"Âge (ans)","titlePadding":8}},
     "y":{"field":"v","type":"quantitative","scale":{"domain":[20,110],"nice":false,"zero":false},"axis":{"orient":"left","values":[20,24,28,32,36,40,44,48,52,56,60,64,68,72,76,80,84,88,92,96,100,104,108],"labels":false,"title":null}},
     "shape":{"field":"y","type":"nominal","scale":{"domain":["1997","1998","1999","2000","2001","2002","2003","2004","2005"],"range":["M-1,-0.12H1V0.12H-1Z M-0.12,-1H0.12V1H-0.12Z","circle","circle","square","M-0.62,-0.62H0.62V0.62H-0.62Z","diamond","triangle-up","M0,-0.78L0.85,0.62L-0.85,0.62Z","triangle-down"]},"legend":{"orient":"none","legendX":0,"legendY":300,"title":null,"encode":{"symbols":{"update":{"stroke":{"value":"#000"},"strokeWidth":{"value":1.2}}}}}},
     "fill":{"field":"y","type":"nominal","scale":{"domain":["1997","1998","1999","2000","2001","2002","2003","2004","2005"],"range":["#000","#fff","#000","#fff","#000","#fff","#fff","#000","#fff"]},"legend":{"orient":"none","legendX":0,"legendY":300,"title":null,"encode":{"symbols":{"update":{"stroke":{"value":"#000"},"strokeWidth":{"value":1.2}}}}}}}}
   ]}
  ]}
 ]},
{"title":{"text":"Loppets style libre"},
 "spacing":0,
 "hconcat":[
 {"bounds":"flush","spacing":0,
  "vconcat":[
  {"width":322,"height":235,"resolve":{"axis":{"x":"independent","y":"independent"}},
   "layer":[
   {"data":{"name":"cLH"},"mark":{"type":"line","color":"#1a861a","strokeWidth":3,"interpolate":"monotone"},
    "encoding":{"x":{"field":"a","type":"quantitative","scale":{"domain":[25,90],"nice":false,"zero":false},"axis":{"orient":"top","values":[25,30,35,40,45,50,55,60,65,70,75,80,85,90],"labels":false,"title":null}},
     "y":{"field":"v","type":"quantitative","scale":{"domain":[20,110],"nice":false,"zero":false},"axis":{"orient":"right","values":[20,24,28,32,36,40,44,48,52,56,60,64,68,72,76,80,84,88,92,96,100,104,108],"labels":false,"title":null}}}},
   {"data":{"name":"LH_AB"},"mark":{"type":"point","filled":true,"stroke":"#000","strokeWidth":1.2,"size":115,"opacity":1},
    "encoding":{"x":{"field":"a","type":"quantitative","scale":{"domain":[25,90],"nice":false,"zero":false},"axis":{"orient":"bottom","values":[25,30,35,40,45,50,55,60,65,70,75,80,85,90],"labels":false,"title":null}},
     "y":{"field":"v","type":"quantitative","scale":{"domain":[20,110],"nice":false,"zero":false},"axis":{"orient":"left","values":[20,24,28,32,36,40,44,48,52,56,60,64,68,72,76,80,84,88,92,96,100,104,108],"labelExpr":"datum.value % 20 === 0 ? datum.label : ''","title":null}},
     "shape":{"field":"y","type":"nominal","scale":{"domain":["1997","1998","1999","2000","2001","2002","2003","2004","2005"],"range":["M-1,-0.12H1V0.12H-1Z M-0.12,-1H0.12V1H-0.12Z","circle","circle","square","M-0.62,-0.62H0.62V0.62H-0.62Z","diamond","triangle-up","M0,-0.78L0.85,0.62L-0.85,0.62Z","triangle-down"]},"legend":{"orient":"none","legendX":0,"legendY":309,"title":null,"encode":{"symbols":{"update":{"stroke":{"value":"#000"},"strokeWidth":{"value":1.2}}}}}},
     "fill":{"field":"y","type":"nominal","scale":{"domain":["1997","1998","1999","2000","2001","2002","2003","2004","2005"],"range":["#000","#fff","#000","#fff","#000","#fff","#fff","#000","#fff"]},"legend":{"orient":"none","legendX":0,"legendY":309,"title":null,"encode":{"symbols":{"update":{"stroke":{"value":"#000"},"strokeWidth":{"value":1.2}}}}}}}},
   {"data":{"values":[{}]},"mark":{"type":"text","text":"Hommes","align":"left","baseline":"middle","fontSize":18,"fontWeight":"bold","color":"#000"},
    "encoding":{"x":{"datum":26,"type":"quantitative","scale":{"domain":[25,90],"nice":false,"zero":false},"axis":null},"y":{"datum":105.5,"type":"quantitative","scale":{"domain":[20,110],"nice":false,"zero":false},"axis":null}}},
   {"data":{"values":[{}]},"mark":{"type":"text","text":"American Birkebeiner","align":"right","baseline":"middle","fontSize":18,"fontWeight":"bold","color":"#cc22cc"},
    "encoding":{"x":{"datum":88.4,"type":"quantitative","scale":{"domain":[25,90],"nice":false,"zero":false},"axis":null},"y":{"datum":102.3,"type":"quantitative","scale":{"domain":[20,110],"nice":false,"zero":false},"axis":null}}}
   ]},
  {"width":322,"height":235,"resolve":{"axis":{"x":"independent","y":"independent"}},
   "layer":[
   {"data":{"name":"cLH"},"mark":{"type":"line","color":"#1a861a","strokeWidth":3,"interpolate":"monotone"},
    "encoding":{"x":{"field":"a","type":"quantitative","scale":{"domain":[25,90],"nice":false,"zero":false},"axis":{"orient":"top","values":[25,30,35,40,45,50,55,60,65,70,75,80,85,90],"labels":false,"title":null}},
     "y":{"field":"v","type":"quantitative","scale":{"domain":[20,110],"nice":false,"zero":false},"axis":{"orient":"right","values":[20,24,28,32,36,40,44,48,52,56,60,64,68,72,76,80,84,88,92,96,100,104,108],"labels":false,"title":null}}}},
   {"data":{"name":"LH_K"},"mark":{"type":"point","filled":true,"stroke":"#000","strokeWidth":1.2,"size":115,"opacity":1},
    "encoding":{"x":{"field":"a","type":"quantitative","scale":{"domain":[25,90],"nice":false,"zero":false},"axis":{"orient":"bottom","values":[25,30,35,40,45,50,55,60,65,70,75,80,85,90],"labels":false,"title":null}},
     "y":{"field":"v","type":"quantitative","scale":{"domain":[20,110],"nice":false,"zero":false},"axis":{"orient":"left","values":[20,24,28,32,36,40,44,48,52,56,60,64,68,72,76,80,84,88,92,96,100,104,108],"labelExpr":"datum.value % 20 === 0 ? datum.label : ''","title":"Vitesse maximale relative (%)","titlePadding":22}},
     "shape":{"field":"y","type":"nominal","scale":{"domain":["1997","1998","1999","2000","2001","2002","2003","2004","2005"],"range":["M-1,-0.12H1V0.12H-1Z M-0.12,-1H0.12V1H-0.12Z","circle","circle","square","M-0.62,-0.62H0.62V0.62H-0.62Z","diamond","triangle-up","M0,-0.78L0.85,0.62L-0.85,0.62Z","triangle-down"]},"legend":{"orient":"none","legendX":0,"legendY":309,"title":null,"encode":{"symbols":{"update":{"stroke":{"value":"#000"},"strokeWidth":{"value":1.2}}}}}},
     "fill":{"field":"y","type":"nominal","scale":{"domain":["1997","1998","1999","2000","2001","2002","2003","2004","2005"],"range":["#000","#fff","#000","#fff","#000","#fff","#fff","#000","#fff"]},"legend":{"orient":"none","legendX":0,"legendY":309,"title":null,"encode":{"symbols":{"update":{"stroke":{"value":"#000"},"strokeWidth":{"value":1.2}}}}}}}},
   {"data":{"values":[{}]},"mark":{"type":"text","text":"Keskinada","align":"right","baseline":"middle","fontSize":18,"fontWeight":"bold","color":"#ff8a30"},
    "encoding":{"x":{"datum":88.4,"type":"quantitative","scale":{"domain":[25,90],"nice":false,"zero":false},"axis":null},"y":{"datum":102,"type":"quantitative","scale":{"domain":[20,110],"nice":false,"zero":false},"axis":null}}}
   ]},
  {"width":322,"height":235,"resolve":{"axis":{"x":"independent","y":"independent"}},
   "layer":[
   {"data":{"name":"cLH"},"mark":{"type":"line","color":"#1a861a","strokeWidth":3,"interpolate":"monotone"},
    "encoding":{"x":{"field":"a","type":"quantitative","scale":{"domain":[25,90],"nice":false,"zero":false},"axis":{"orient":"top","values":[25,30,35,40,45,50,55,60,65,70,75,80,85,90],"labels":false,"title":null}},
     "y":{"field":"v","type":"quantitative","scale":{"domain":[20,110],"nice":false,"zero":false},"axis":{"orient":"right","values":[20,24,28,32,36,40,44,48,52,56,60,64,68,72,76,80,84,88,92,96,100,104,108],"labels":false,"title":null}}}},
   {"data":{"name":"LH_L"},"mark":{"type":"point","filled":true,"stroke":"#000","strokeWidth":1.2,"size":115,"opacity":1},
    "encoding":{"x":{"field":"a","type":"quantitative","scale":{"domain":[25,90],"nice":false,"zero":false},"axis":{"orient":"bottom","values":[25,30,35,40,45,50,55,60,65,70,75,80,85,90],"labelExpr":"datum.value % 10 === 0 && datum.value <= 80 ? datum.label : ''","labelFlush":false,"labelPadding":23,"title":"Âge (ans)","titlePadding":8}},
     "y":{"field":"v","type":"quantitative","scale":{"domain":[20,110],"nice":false,"zero":false},"axis":{"orient":"left","values":[20,24,28,32,36,40,44,48,52,56,60,64,68,72,76,80,84,88,92,96,100,104,108],"labelExpr":"datum.value % 20 === 0 ? datum.label : ''","title":null}},
     "shape":{"field":"y","type":"nominal","scale":{"domain":["1997","1998","1999","2000","2001","2002","2003","2004","2005"],"range":["M-1,-0.12H1V0.12H-1Z M-0.12,-1H0.12V1H-0.12Z","circle","circle","square","M-0.62,-0.62H0.62V0.62H-0.62Z","diamond","triangle-up","M0,-0.78L0.85,0.62L-0.85,0.62Z","triangle-down"]},"legend":{"orient":"none","legendX":0,"legendY":309,"title":null,"encode":{"symbols":{"update":{"stroke":{"value":"#000"},"strokeWidth":{"value":1.2}}}}}},
     "fill":{"field":"y","type":"nominal","scale":{"domain":["1997","1998","1999","2000","2001","2002","2003","2004","2005"],"range":["#000","#fff","#000","#fff","#000","#fff","#fff","#000","#fff"]},"legend":{"orient":"none","legendX":0,"legendY":309,"title":null,"encode":{"symbols":{"update":{"stroke":{"value":"#000"},"strokeWidth":{"value":1.2}}}}}}}},
   {"data":{"values":[{}]},"mark":{"type":"text","text":"Konig Ludwig Lauf","align":"right","baseline":"middle","fontSize":18,"fontWeight":"bold","color":"#9a9a22"},
    "encoding":{"x":{"datum":88.4,"type":"quantitative","scale":{"domain":[25,90],"nice":false,"zero":false},"axis":null},"y":{"datum":101.5,"type":"quantitative","scale":{"domain":[20,110],"nice":false,"zero":false},"axis":null}}}
   ]}
  ]},
 {"bounds":"flush","spacing":0,
  "vconcat":[
  {"width":277,"height":235,"resolve":{"axis":{"x":"independent","y":"independent"}},
   "layer":[
   {"data":{"name":"cLF"},"mark":{"type":"line","color":"#1515c8","strokeWidth":3,"interpolate":"monotone"},
    "encoding":{"x":{"field":"a","type":"quantitative","scale":{"domain":[25,80],"nice":false,"zero":false},"axis":{"orient":"top","values":[25,30,35,40,45,50,55,60,65,70,75,80],"labels":false,"title":null}},
     "y":{"field":"v","type":"quantitative","scale":{"domain":[20,110],"nice":false,"zero":false},"axis":{"orient":"right","values":[20,24,28,32,36,40,44,48,52,56,60,64,68,72,76,80,84,88,92,96,100,104,108],"labels":false,"title":null}}}},
   {"data":{"name":"LF_AB"},"mark":{"type":"point","filled":true,"stroke":"#000","strokeWidth":1.2,"size":115,"opacity":1},
    "encoding":{"x":{"field":"a","type":"quantitative","scale":{"domain":[25,80],"nice":false,"zero":false},"axis":{"orient":"bottom","values":[25,30,35,40,45,50,55,60,65,70,75,80],"labels":false,"title":null}},
     "y":{"field":"v","type":"quantitative","scale":{"domain":[20,110],"nice":false,"zero":false},"axis":{"orient":"left","values":[20,24,28,32,36,40,44,48,52,56,60,64,68,72,76,80,84,88,92,96,100,104,108],"labels":false,"title":null}},
     "shape":{"field":"y","type":"nominal","scale":{"domain":["1997","1998","1999","2000","2001","2002","2003","2004","2005"],"range":["M-1,-0.12H1V0.12H-1Z M-0.12,-1H0.12V1H-0.12Z","circle","circle","square","M-0.62,-0.62H0.62V0.62H-0.62Z","diamond","triangle-up","M0,-0.78L0.85,0.62L-0.85,0.62Z","triangle-down"]},"legend":{"orient":"none","legendX":0,"legendY":309,"title":null,"encode":{"symbols":{"update":{"stroke":{"value":"#000"},"strokeWidth":{"value":1.2}}}}}},
     "fill":{"field":"y","type":"nominal","scale":{"domain":["1997","1998","1999","2000","2001","2002","2003","2004","2005"],"range":["#000","#fff","#000","#fff","#000","#fff","#fff","#000","#fff"]},"legend":{"orient":"none","legendX":0,"legendY":309,"title":null,"encode":{"symbols":{"update":{"stroke":{"value":"#000"},"strokeWidth":{"value":1.2}}}}}}}},
   {"data":{"values":[{}]},"mark":{"type":"text","text":"Femmes","align":"right","baseline":"middle","fontSize":18,"fontWeight":"bold","color":"#000"},
    "encoding":{"x":{"datum":78.8,"type":"quantitative","scale":{"domain":[25,80],"nice":false,"zero":false},"axis":null},"y":{"datum":105.5,"type":"quantitative","scale":{"domain":[20,110],"nice":false,"zero":false},"axis":null}}}
   ]},
  {"width":277,"height":235,"resolve":{"axis":{"x":"independent","y":"independent"}},
   "layer":[
   {"data":{"name":"cLF"},"mark":{"type":"line","color":"#1515c8","strokeWidth":3,"interpolate":"monotone"},
    "encoding":{"x":{"field":"a","type":"quantitative","scale":{"domain":[25,80],"nice":false,"zero":false},"axis":{"orient":"top","values":[25,30,35,40,45,50,55,60,65,70,75,80],"labels":false,"title":null}},
     "y":{"field":"v","type":"quantitative","scale":{"domain":[20,110],"nice":false,"zero":false},"axis":{"orient":"right","values":[20,24,28,32,36,40,44,48,52,56,60,64,68,72,76,80,84,88,92,96,100,104,108],"labels":false,"title":null}}}},
   {"data":{"name":"LF_K"},"mark":{"type":"point","filled":true,"stroke":"#000","strokeWidth":1.2,"size":115,"opacity":1},
    "encoding":{"x":{"field":"a","type":"quantitative","scale":{"domain":[25,80],"nice":false,"zero":false},"axis":{"orient":"bottom","values":[25,30,35,40,45,50,55,60,65,70,75,80],"labels":false,"title":null}},
     "y":{"field":"v","type":"quantitative","scale":{"domain":[20,110],"nice":false,"zero":false},"axis":{"orient":"left","values":[20,24,28,32,36,40,44,48,52,56,60,64,68,72,76,80,84,88,92,96,100,104,108],"labels":false,"title":null}},
     "shape":{"field":"y","type":"nominal","scale":{"domain":["1997","1998","1999","2000","2001","2002","2003","2004","2005"],"range":["M-1,-0.12H1V0.12H-1Z M-0.12,-1H0.12V1H-0.12Z","circle","circle","square","M-0.62,-0.62H0.62V0.62H-0.62Z","diamond","triangle-up","M0,-0.78L0.85,0.62L-0.85,0.62Z","triangle-down"]},"legend":{"orient":"none","legendX":0,"legendY":309,"title":null,"encode":{"symbols":{"update":{"stroke":{"value":"#000"},"strokeWidth":{"value":1.2}}}}}},
     "fill":{"field":"y","type":"nominal","scale":{"domain":["1997","1998","1999","2000","2001","2002","2003","2004","2005"],"range":["#000","#fff","#000","#fff","#000","#fff","#fff","#000","#fff"]},"legend":{"orient":"none","legendX":0,"legendY":309,"title":null,"encode":{"symbols":{"update":{"stroke":{"value":"#000"},"strokeWidth":{"value":1.2}}}}}}}}
   ]},
  {"width":277,"height":235,"resolve":{"axis":{"x":"independent","y":"independent"}},
   "layer":[
   {"data":{"name":"cLF"},"mark":{"type":"line","color":"#1515c8","strokeWidth":3,"interpolate":"monotone"},
    "encoding":{"x":{"field":"a","type":"quantitative","scale":{"domain":[25,80],"nice":false,"zero":false},"axis":{"orient":"top","values":[25,30,35,40,45,50,55,60,65,70,75,80],"labels":false,"title":null}},
     "y":{"field":"v","type":"quantitative","scale":{"domain":[20,110],"nice":false,"zero":false},"axis":{"orient":"right","values":[20,24,28,32,36,40,44,48,52,56,60,64,68,72,76,80,84,88,92,96,100,104,108],"labels":false,"title":null}}}},
   {"data":{"name":"LF_L"},"mark":{"type":"point","filled":true,"stroke":"#000","strokeWidth":1.2,"size":115,"opacity":1},
    "encoding":{"x":{"field":"a","type":"quantitative","scale":{"domain":[25,80],"nice":false,"zero":false},"axis":{"orient":"bottom","values":[25,30,35,40,45,50,55,60,65,70,75,80],"labelExpr":"datum.value % 10 === 0 ? datum.label : ''","labelFlush":false,"labelPadding":23,"title":"Âge (ans)","titlePadding":8}},
     "y":{"field":"v","type":"quantitative","scale":{"domain":[20,110],"nice":false,"zero":false},"axis":{"orient":"left","values":[20,24,28,32,36,40,44,48,52,56,60,64,68,72,76,80,84,88,92,96,100,104,108],"labels":false,"title":null}},
     "shape":{"field":"y","type":"nominal","scale":{"domain":["1997","1998","1999","2000","2001","2002","2003","2004","2005"],"range":["M-1,-0.12H1V0.12H-1Z M-0.12,-1H0.12V1H-0.12Z","circle","circle","square","M-0.62,-0.62H0.62V0.62H-0.62Z","diamond","triangle-up","M0,-0.78L0.85,0.62L-0.85,0.62Z","triangle-down"]},"legend":{"orient":"none","legendX":0,"legendY":309,"title":null,"encode":{"symbols":{"update":{"stroke":{"value":"#000"},"strokeWidth":{"value":1.2}}}}}},
     "fill":{"field":"y","type":"nominal","scale":{"domain":["1997","1998","1999","2000","2001","2002","2003","2004","2005"],"range":["#000","#fff","#000","#fff","#000","#fff","#fff","#000","#fff"]},"legend":{"orient":"none","legendX":0,"legendY":309,"title":null,"encode":{"symbols":{"update":{"stroke":{"value":"#000"},"strokeWidth":{"value":1.2}}}}}}}}
   ]}
  ]}
 ]}
]
}
